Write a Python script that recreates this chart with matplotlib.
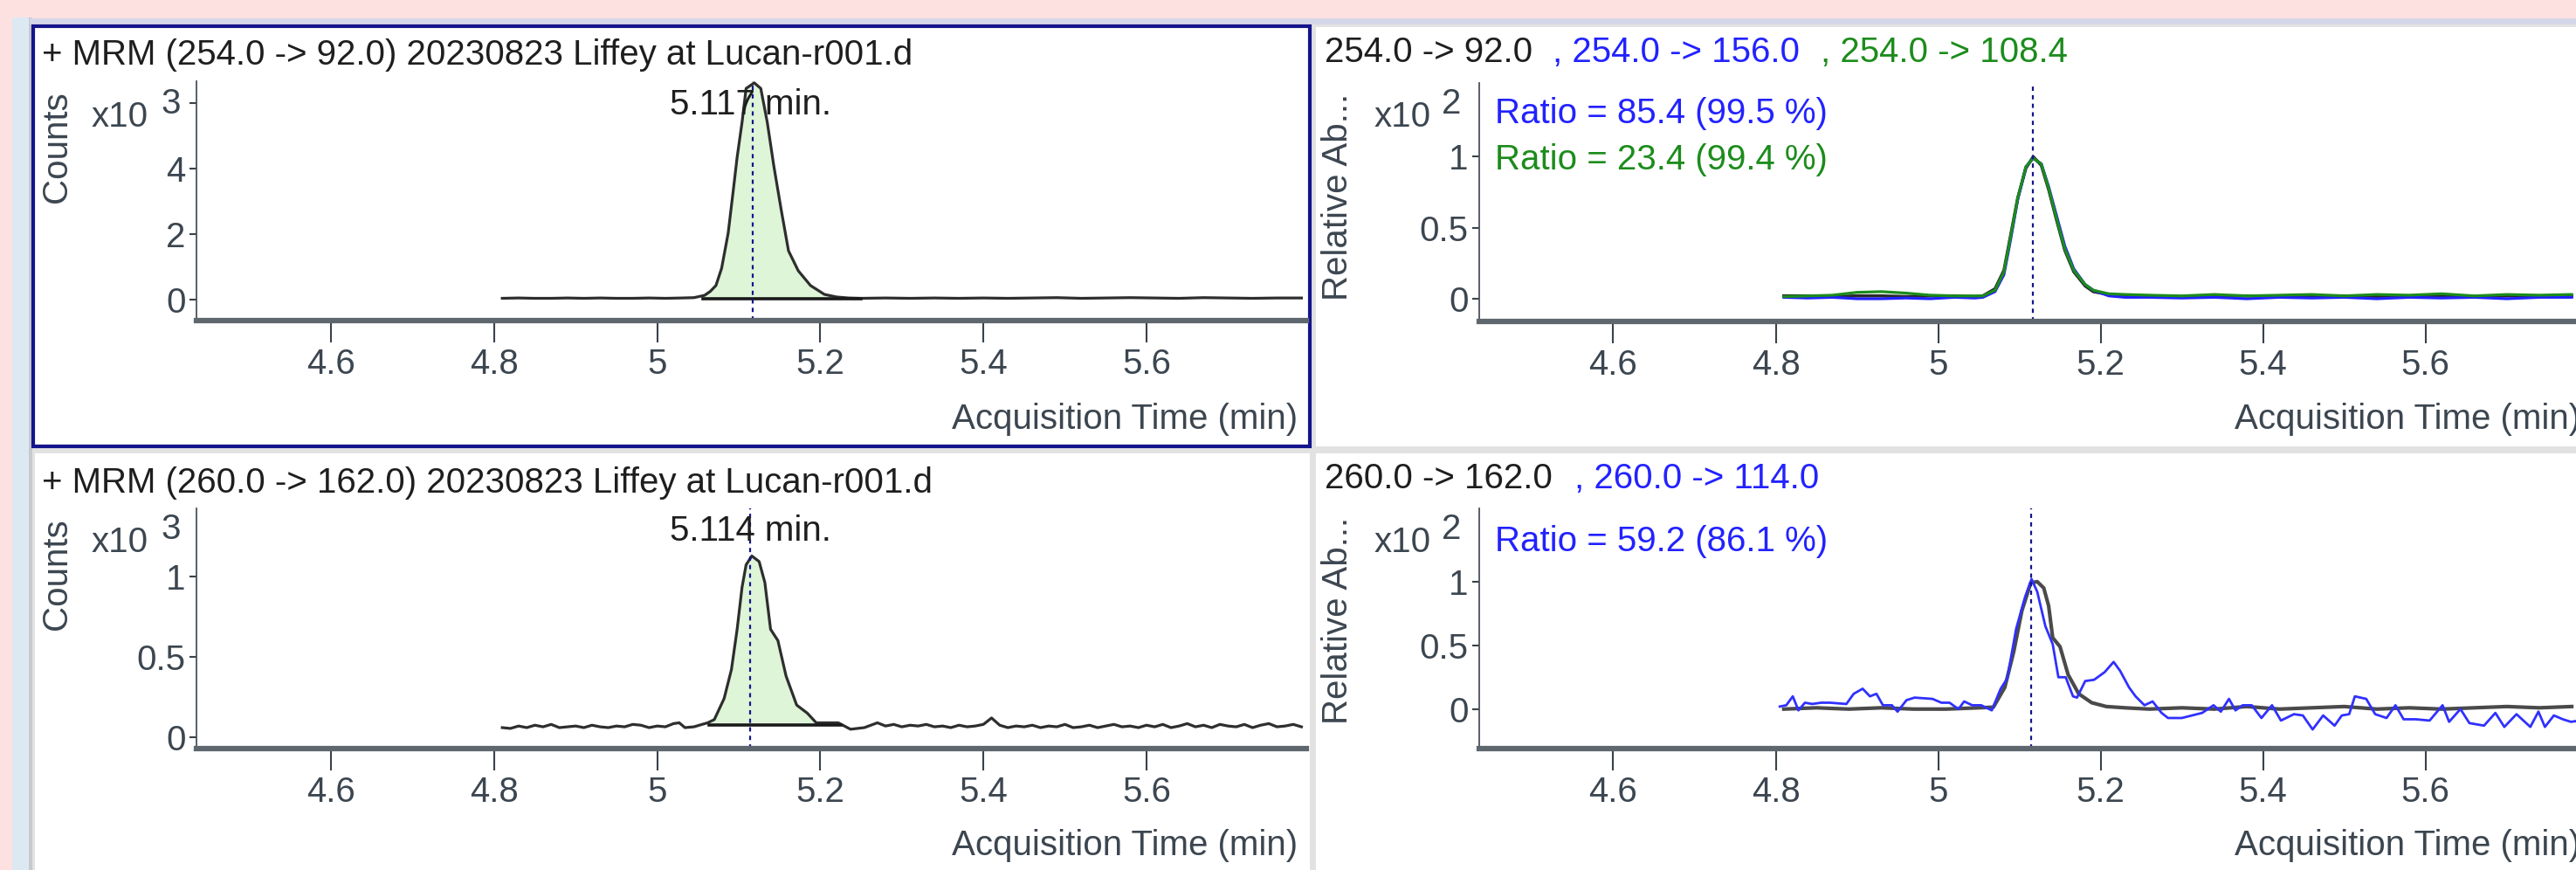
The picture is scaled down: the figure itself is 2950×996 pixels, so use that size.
import matplotlib
matplotlib.use("Agg")
import matplotlib.pyplot as plt
from matplotlib.patches import Rectangle

plt.rcParams['font.family'] = ['Liberation Sans', 'DejaVu Sans']

# ---- data ----
# top left: MRM 254.0 -> 92.0, counts x10^3
tl_t = [4.81, 4.83, 4.85, 4.87, 4.89, 4.91, 4.93, 4.95, 4.97, 4.99, 5.01, 5.03,
        5.045, 5.058, 5.065, 5.072, 5.079, 5.087, 5.093, 5.098, 5.104, 5.109,
        5.119, 5.127, 5.135, 5.143, 5.152, 5.161, 5.173, 5.188, 5.205, 5.22,
        5.235, 5.25, 5.28, 5.31, 5.34, 5.37, 5.40, 5.43, 5.46, 5.49, 5.52,
        5.55, 5.58, 5.61, 5.64, 5.67, 5.70, 5.73, 5.76, 5.79]
tl_v = [0.04, 0.05, 0.04, 0.04, 0.05, 0.04, 0.05, 0.04, 0.04, 0.05, 0.04, 0.05,
        0.06, 0.13, 0.25, 0.43, 0.96, 2.03, 3.28, 4.35, 5.41, 6.45,
        6.62, 6.45, 5.41, 4.08, 2.75, 1.49, 0.88, 0.43, 0.16, 0.08,
        0.05, 0.04, 0.05, 0.04, 0.05, 0.04, 0.05, 0.04, 0.05, 0.06, 0.04,
        0.05, 0.06, 0.05, 0.04, 0.06, 0.05, 0.04, 0.05, 0.05]
tl_rt = 5.117
tl_int = [5.056, 5.25]

# bottom left: MRM 260.0 -> 162.0, counts x10^3
bl_t = [4.81, 4.82, 4.83, 4.84, 4.85, 4.86, 4.87, 4.88, 4.89, 4.90, 4.91, 4.92,
        4.93, 4.94, 4.95, 4.96, 4.97, 4.98, 4.99, 5.00, 5.01, 5.02, 5.027, 5.034,
        5.045, 5.055, 5.062, 5.070, 5.082, 5.091, 5.098, 5.104, 5.109, 5.116,
        5.125, 5.132, 5.139, 5.148, 5.158, 5.171, 5.184, 5.195, 5.21, 5.222,
        5.237, 5.254, 5.27, 5.28, 5.29, 5.30, 5.31, 5.32, 5.33, 5.34, 5.35,
        5.36, 5.37, 5.38, 5.39, 5.40, 5.41, 5.42, 5.43, 5.44, 5.45, 5.46, 5.47,
        5.48, 5.49, 5.50, 5.51, 5.52, 5.53, 5.54, 5.55, 5.56, 5.57, 5.58, 5.59,
        5.60, 5.61, 5.62, 5.63, 5.64, 5.65, 5.66, 5.67, 5.68, 5.69, 5.70, 5.71,
        5.72, 5.73, 5.74, 5.75, 5.76, 5.77, 5.78, 5.79]
bl_v = [0.06, 0.055, 0.07, 0.06, 0.075, 0.065, 0.08, 0.06, 0.065, 0.07, 0.06, 0.075,
        0.065, 0.06, 0.07, 0.065, 0.08, 0.075, 0.06, 0.07, 0.065, 0.085, 0.09, 0.06,
        0.065, 0.08, 0.09, 0.11, 0.24, 0.42, 0.67, 0.93, 1.07, 1.125,
        1.09, 0.96, 0.67, 0.60, 0.38, 0.20, 0.15, 0.09, 0.09, 0.09,
        0.05, 0.06, 0.09, 0.07, 0.08, 0.065, 0.075, 0.07, 0.08, 0.065, 0.07,
        0.06, 0.075, 0.065, 0.07, 0.08, 0.12, 0.075, 0.06, 0.07, 0.065, 0.075, 0.06,
        0.07, 0.065, 0.08, 0.06, 0.065, 0.075, 0.06, 0.07, 0.08, 0.065, 0.07, 0.06,
        0.075, 0.065, 0.08, 0.06, 0.07, 0.085, 0.065, 0.075, 0.06, 0.08, 0.07, 0.065,
        0.08, 0.06, 0.075, 0.085, 0.065, 0.07, 0.08, 0.065]
bl_rt = 5.114
bl_int = [5.064, 5.225]

# top right: qualifier overlay, relative abundance x10^2
tr_t = [4.81, 4.84, 4.87, 4.90, 4.93, 4.96, 4.99, 5.02, 5.045, 5.055, 5.070,
        5.081, 5.089, 5.098, 5.108, 5.117, 5.127, 5.136, 5.146, 5.156, 5.167,
        5.181, 5.191, 5.21, 5.23, 5.26, 5.30, 5.34, 5.38, 5.42, 5.46, 5.50,
        5.54, 5.58, 5.62, 5.66, 5.70, 5.74, 5.78]
tr_black = [0.02, 0.02, 0.015, 0.02, 0.02, 0.015, 0.02, 0.02, 0.015, 0.02, 0.07,
            0.20, 0.44, 0.71, 0.92, 1.0, 0.94, 0.77, 0.55, 0.34, 0.19,
            0.09, 0.05, 0.03, 0.02, 0.02, 0.015, 0.02, 0.02, 0.015, 0.02, 0.02,
            0.015, 0.02, 0.02, 0.015, 0.02, 0.02, 0.02]
tr_blue = [0.01, 0.005, 0.01, 0.0, 0.0, 0.005, 0.0, 0.01, 0.005, 0.01, 0.05,
           0.17, 0.41, 0.70, 0.93, 0.99, 0.95, 0.79, 0.58, 0.37, 0.21,
           0.10, 0.06, 0.02, 0.01, 0.01, 0.005, 0.01, 0.0, 0.01, 0.005, 0.01,
           0.0, 0.01, 0.005, 0.01, 0.0, 0.01, 0.01]
tr_green = [0.015, 0.02, 0.025, 0.045, 0.05, 0.04, 0.025, 0.02, 0.02, 0.02, 0.06,
            0.19, 0.43, 0.71, 0.93, 0.99, 0.95, 0.78, 0.56, 0.35, 0.20,
            0.10, 0.06, 0.035, 0.03, 0.025, 0.02, 0.03, 0.02, 0.025, 0.03, 0.02,
            0.03, 0.025, 0.035, 0.02, 0.03, 0.025, 0.03]
tr_rt = 5.117

# bottom right: qualifier overlay, relative abundance x10^2
br_t_black = [4.81, 4.85, 4.89, 4.93, 4.97, 5.01, 5.05, 5.068, 5.082, 5.093, 5.103,
              5.114, 5.122, 5.130, 5.136, 5.141, 5.150, 5.160, 5.173, 5.189, 5.207,
              5.23, 5.26, 5.30, 5.34, 5.38, 5.42, 5.46, 5.50, 5.54, 5.58, 5.62,
              5.66, 5.70, 5.74, 5.78]
br_black = [0.0, 0.01, 0.0, 0.01, 0.0, 0.0, 0.01, 0.015, 0.17, 0.45, 0.77,
            0.99, 1.0, 0.95, 0.81, 0.56, 0.49, 0.27, 0.12, 0.05, 0.02,
            0.01, 0.0, 0.01, 0.0, 0.02, 0.0, 0.01, 0.02, 0.0, 0.01, 0.0,
            0.01, 0.02, 0.01, 0.02]
br_t_blue = [4.805, 4.813, 4.821, 4.828, 4.836, 4.845, 4.856, 4.867, 4.887, 4.896,
             4.907, 4.916, 4.924, 4.932, 4.943, 4.950, 4.961, 4.971, 4.993, 5.004,
             5.014, 5.025, 5.032, 5.042, 5.053, 5.066, 5.077, 5.085, 5.096, 5.107,
             5.115, 5.122, 5.132, 5.141, 5.148, 5.157, 5.166, 5.171, 5.181, 5.192,
             5.205, 5.216, 5.224, 5.235, 5.243, 5.254, 5.264, 5.275, 5.283, 5.300,
             5.325, 5.339, 5.348, 5.358, 5.366, 5.375, 5.386, 5.398, 5.411, 5.422,
             5.438, 5.449, 5.461, 5.474, 5.488, 5.497, 5.506, 5.513, 5.527, 5.538,
             5.552, 5.563, 5.573, 5.588, 5.605, 5.621, 5.629, 5.643, 5.654, 5.672,
             5.686, 5.697, 5.712, 5.729, 5.739, 5.747, 5.758, 5.769, 5.779, 5.79]
br_blue = [0.02, 0.03, 0.10, -0.01, 0.05, 0.04, 0.05, 0.05, 0.04, 0.12,
           0.16, 0.10, 0.12, 0.03, 0.03, -0.02, 0.07, 0.09, 0.08, 0.05,
           0.05, 0.0, 0.06, 0.03, 0.03, -0.01, 0.16, 0.24, 0.63, 0.88,
           1.02, 0.92, 0.65, 0.51, 0.25, 0.25, 0.10, 0.09, 0.22, 0.23,
           0.29, 0.37, 0.30, 0.17, 0.10, 0.03, 0.06, -0.03, -0.07, -0.07,
           -0.03, 0.03, -0.02, 0.08, -0.01, 0.03, 0.03, -0.07, 0.03, -0.09,
           -0.04, -0.05, -0.16, -0.05, -0.13, -0.05, -0.04, 0.10, 0.08, -0.04,
           -0.07, 0.03, -0.08, -0.08, -0.09, 0.03, -0.10, 0.0, -0.11, -0.13,
           -0.03, -0.14, -0.04, -0.14, -0.02, -0.14, -0.05, -0.08, -0.10, -0.09]
br_rt = 5.114

x_ticks = [4.6, 4.8, 5.0, 5.2, 5.4, 5.6]
x_labels = ['4.6', '4.8', '5', '5.2', '5.4', '5.6']

W, H = 2950, 996
FS = 29
TXT = '#1e1e1e'
GRAY = '#3c4650'
BLUE = '#2222ff'
GREEN = '#1c8c1c'
NAVY = '#14148c'
DOT = (0, (2.2, 2.2))

fig = plt.figure(figsize=(W / 100, H / 100), dpi=100, facecolor='#fde1e1')

# window chrome drawn in pixel space
bg = fig.add_axes([0, 0, 1, 1])
bg.set_xlim(0, W)
bg.set_ylim(H, 0)
bg.axis('off')
def box(x0, y0, x1, y1, **kw):
    bg.add_patch(Rectangle((x0, y0), x1 - x0, y1 - y0, **kw))
box(14, 20, 34, H, color='#dce9f3', lw=0)
box(33, 20, 37, H, color='#c6cace', lw=0)
box(34, 21, W, 28, color='#d6d6ea', lw=0)
box(37, 28, W, H, color='#e2e2e2', lw=0)
box(1507, 31, W, 511, color='white', lw=0)
box(40, 519, 1500, H, color='white', lw=0)
box(1507, 519, W, H, color='white', lw=0)
box(38, 30, 1500, 511, facecolor='white', edgecolor=NAVY, lw=3)

def ptext(x, y, s, **kw):
    kw.setdefault('fontsize', FS)
    kw.setdefault('color', TXT)
    fig.text(x / W, 1 - y / H, s, **kw)

def add_ax(x0, y0, x1, y1, ylim, yticks, ylabels):
    ax = fig.add_axes([x0 / W, 1 - y1 / H, (x1 - x0) / W, (y1 - y0) / H])
    ax.set_facecolor('none')
    ax.set_xlim(4.435, 5.796)
    ax.set_ylim(*ylim)
    ax.set_xticks(x_ticks)
    ax.set_xticklabels(x_labels)
    ax.set_yticks(yticks)
    ax.set_yticklabels(ylabels)
    for s in ['top', 'right']:
        ax.spines[s].set_visible(False)
    ax.spines['bottom'].set_linewidth(4.5)
    ax.spines['bottom'].set_color('#5e666e')
    ax.spines['left'].set_linewidth(1.3)
    ax.spines['left'].set_color('#4a525a')
    ax.tick_params(axis='x', direction='out', length=18, width=1.5,
                   color='#3a424a', pad=4, labelsize=FS, labelcolor=GRAY)
    ax.tick_params(axis='y', direction='out', length=6, width=1.5,
                   color='#3a424a', pad=3, labelsize=FS, labelcolor=GRAY)
    return ax

def counts_panel(ax, t, v, rt, integ, base):
    inside = [(a, b) for a, b in zip(t, v) if integ[0] <= a <= integ[1]]
    ft = [integ[0]] + [a for a, b in inside] + [integ[1]]
    fv = [base] + [b for a, b in inside] + [base]
    ax.fill_between(ft, fv, base, color='#def5d8', lw=0)
    ax.plot(t, v, color='#2e2e2e', lw=2.3)
    ax.plot(integ, [base, base], color='#1a1a1a', lw=2.6)
    ax.axvline(rt, color=NAVY, lw=1.6, ls=DOT)

# ---- top left ----
ax1 = add_ax(225, 93, 1496, 367, (-0.64, 6.67), [0, 2, 4, 6], ['0', '2', '4', ''])
counts_panel(ax1, tl_t, tl_v, tl_rt, tl_int, 0.02)
ptext(48, 63, '+ MRM (254.0 -> 92.0) 20230823 Liffey at Lucan-r001.d', va='center')
ptext(767, 120, '5.117 min.', va='center')
ptext(65, 168, 'Counts', rotation=90, ha='center', va='center', color=GRAY)
ptext(105, 145, 'x10', va='baseline', color=GRAY)
ptext(184, 130, '3', va='baseline', color=GRAY)
ptext(1486, 480, 'Acquisition Time (min)', ha='right', va='center', color=GRAY)

# ---- bottom left ----
ax3 = add_ax(225, 582, 1496, 857, (-0.07, 1.42), [0, 0.5, 1], ['0', '0.5', '1'])
counts_panel(ax3, bl_t, bl_v, bl_rt, bl_int, 0.075)
ptext(48, 553, '+ MRM (260.0 -> 162.0) 20230823 Liffey at Lucan-r001.d', va='center')
ptext(767, 608, '5.114 min.', va='center')
ptext(65, 657, 'Counts', rotation=90, ha='center', va='center', color=GRAY)
ptext(105, 632, 'x10', va='baseline', color=GRAY)
ptext(184, 617, '3', va='baseline', color=GRAY)
ptext(1486, 968, 'Acquisition Time (min)', ha='right', va='center', color=GRAY)

# ---- top right ----
ax2 = add_ax(1694, 95, 2960, 368, (-0.16, 1.52), [0, 0.5, 1], ['0', '0.5', '1'])
ax2.plot(tr_t, tr_black, color='#2a2a2a', lw=2.6)
ax2.plot(tr_t, tr_blue, color=BLUE, lw=2.3)
ax2.plot(tr_t, tr_green, color=GREEN, lw=2.3)
ax2.axvline(tr_rt, color=NAVY, lw=1.6, ls=DOT)
ptext(1517, 60, '254.0 -> 92.0', va='center')
ptext(1778, 60, ', 254.0 -> 156.0', va='center', color=BLUE)
ptext(2085, 60, ', 254.0 -> 108.4', va='center', color=GREEN)
ptext(1712, 130, 'Ratio = 85.4 (99.5 %)', va='center', color=BLUE)
ptext(1712, 183, 'Ratio = 23.4 (99.4 %)', va='center', color=GREEN)
ptext(1532, 225, 'Relative Ab...', rotation=90, ha='center', va='center', color=GRAY)
ptext(1574, 145, 'x10', va='baseline', color=GRAY)
ptext(1651, 130, '2', va='baseline', color=GRAY)
ptext(2955, 480, 'Acquisition Time (min)', ha='right', va='center', color=GRAY)

# ---- bottom right ----
ax4 = add_ax(1694, 582, 2960, 857, (-0.31, 1.575), [0, 0.5, 1], ['0', '0.5', '1'])
ax4.plot(br_t_black, br_black, color='#4a4a4a', lw=3.0)
ax4.plot(br_t_blue, br_blue, color='#3030ff', lw=2.0)
ax4.axvline(br_rt, color=NAVY, lw=1.6, ls=DOT)
ptext(1517, 548, '260.0 -> 162.0', va='center')
ptext(1803, 548, ', 260.0 -> 114.0', va='center', color=BLUE)
ptext(1712, 620, 'Ratio = 59.2 (86.1 %)', va='center', color=BLUE)
ptext(1532, 710, 'Relative Ab...', rotation=90, ha='center', va='center', color=GRAY)
ptext(1574, 632, 'x10', va='baseline', color=GRAY)
ptext(1651, 617, '2', va='baseline', color=GRAY)
ptext(2955, 968, 'Acquisition Time (min)', ha='right', va='center', color=GRAY)

fig.savefig('out.png', dpi=100, facecolor=fig.get_facecolor())
